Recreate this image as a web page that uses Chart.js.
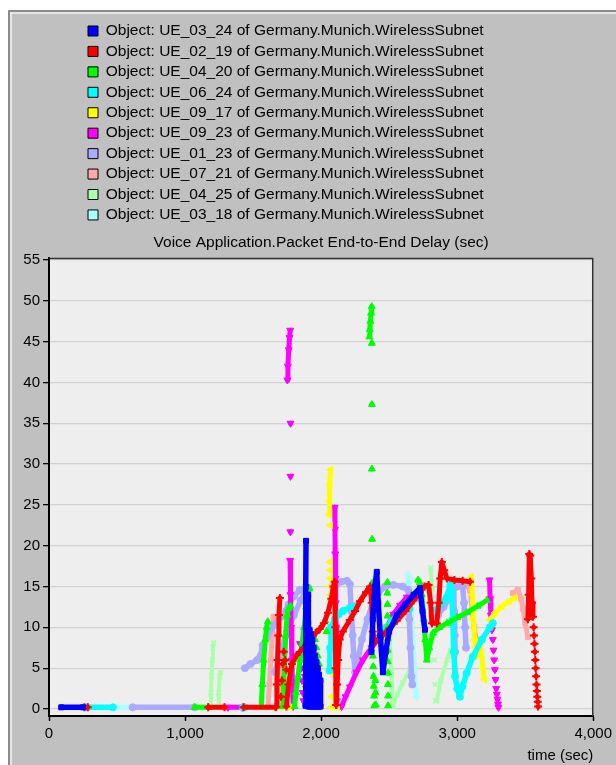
<!DOCTYPE html>
<html><head><meta charset="utf-8">
<script src="https://cdn.jsdelivr.net/npm/chart.js@4"></script>
<style>
html,body{margin:0;padding:0;background:#fff;width:616px;height:765px;overflow:hidden;}
#panel{position:absolute;left:8px;top:10px;width:620px;height:770px;background:#c0c0c0;border-left:2px solid #8c8c8c;border-top:2px solid #8c8c8c;box-shadow:inset 2px 2px 0 #e6e6e6;}
#wrap{position:absolute;left:0;top:0;width:616px;height:765px;}
</style></head><body>
<div id="panel"></div>
<div id="wrap"><canvas id="c" width="616" height="765"></canvas></div>
<script>
const seriesNames = [
  "Object: UE_03_24 of Germany.Munich.WirelessSubnet",
  "Object: UE_02_19 of Germany.Munich.WirelessSubnet",
  "Object: UE_04_20 of Germany.Munich.WirelessSubnet",
  "Object: UE_06_24 of Germany.Munich.WirelessSubnet",
  "Object: UE_09_17 of Germany.Munich.WirelessSubnet",
  "Object: UE_09_23 of Germany.Munich.WirelessSubnet",
  "Object: UE_01_23 of Germany.Munich.WirelessSubnet",
  "Object: UE_07_21 of Germany.Munich.WirelessSubnet",
  "Object: UE_04_25 of Germany.Munich.WirelessSubnet",
  "Object: UE_03_18 of Germany.Munich.WirelessSubnet"
];
const chartTitle = "Voice Application.Packet End-to-End Delay (sec)";
const xAxisTitle = "time (sec)";
const xTickValues = [0, 1000, 2000, 3000, 4000];
const yTickValues = [0, 5, 10, 15, 20, 25, 30, 35, 40, 45, 50, 55];

// [time, delay] trails (dense runs) and isolated dots, per series
const ue03_24_trails = [
  [[90,0.2],[250,0.2]],
  [[1885,0.4],[1886,5],[1887,10],[1888,15],[1889,20.6]],
  [[1905,14],[1906,7],[1907,0.3]],
  [[1915,9.7],[1916,5],[1917,0.3]],
  [[1925,9.2],[1926,4],[1927,0.3]],
  [[1935,8.5],[1936,4],[1937,0.3]],
  [[1945,7.5],[1946,3.5],[1947,0.3]],
  [[1955,6.5],[1956,3],[1957,0.3]],
  [[1965,5.8],[1966,3],[1967,0.3]],
  [[1975,5],[1976,2.5],[1977,0.3]],
  [[1985,4.2],[1986,2],[1987,0.3]],
  [[1995,3.5],[1996,0.3]],
  [[2370,7],[2380,11],[2395,15],[2409,16.8],[2420,13],[2435,9],[2454,4.5],[2475,7],[2500,9.5],[2556,11.5],[2620,12.8],[2680,14],[2726,14.8],[2745,12],[2763,9.7]]
];
const ue03_24_dots = [[1900,12],[1905,10.5]];

const ue02_19_trails = [
  [[260,0.2],[285,0.2]],
  [[1170,0.2],[1290,0.2]],
  [[1430,0.2],[1665,0.2]],
  [[1670,0.3],[1675,3],[1680,6],[1685,9],[1690,11.5],[1697,13.6]],
  [[1745,0.3],[1760,3],[1785,5.5],[1820,6.6],[1870,7.5],[1920,8.5],[1960,9.3],[1990,9.8],[2020,10.5],[2050,11.8],[2075,13.5],[2090,15],[2100,15.6],[2104,10],[2107,5],[2110,0.5]],
  [[2112,0.5],[2118,3],[2125,6],[2137,8.5],[2160,9.5],[2211,10.9],[2250,12],[2285,13.2],[2330,14.3],[2360,15],[2372,13],[2380,9.5],[2395,8.2],[2432,8.6],[2480,9.5],[2556,10.8],[2620,12],[2680,13.3],[2726,14.3],[2760,15],[2790,15.2],[2805,13],[2814,10.5],[2850,10.5],[2865,13],[2875,16],[2887,18],[2905,17],[2924,16],[2980,15.8],[3040,15.7],[3095,15.6]],
  [[3520,11],[3525,14],[3530,19],[3537,18.8],[3545,16],[3550,13],[3557,11.3]]
];
const ue02_19_dots = [[1705,1.5],[1712,3.5],[1718,5.5],[1725,7],[1735,6],[1745,4.8],
  [3562,10],[3565,9],[3568,8],[3571,7],[3574,6],[3577,5],[3580,4],[3583,3],[3586,2.2],[3589,1.5],[3592,0.9],[3595,0.3]];

const ue04_20_trails = [
  [[1070,0.2],[1170,0.2]],
  [[1560,0.3],[1568,3],[1578,6],[1590,8.5],[1600,10],[1608,10.7]],
  [[1718,0.3],[1725,3],[1732,6],[1740,9],[1750,11.5],[1760,12.3],[1775,12.6]],
  [[1805,0.3],[1815,2],[1830,4],[1845,6],[1860,8],[1875,10],[1890,12.5],[1900,13.5],[1915,14.8]],
  [[2355,45.6],[2358,46.5],[2362,47.5],[2367,48.5],[2372,49.3]],
  [[2712,15.8],[2725,15.5],[2740,14],[2755,11],[2765,8.5],[2777,6],[2795,7.5],[2822,9.3],[2870,10],[2925,10.5],[3000,11.2],[3070,11.8],[3150,12.6],[3218,13.3]]
];
const ue04_20_dots = [[2373,44.8],[2373,37.3],[2373,29.4],[2375,20.8],[2375,15.4],
  [2380,6.5],[2383,5.2],[2385,4],[2387,2.8],[2389,1.6],[2391,0.4],[2398,3.5],[2400,2],[2402,0.5],
  [2487,15.5],[2487,14.2],[2488,12.8],[2488,11.4],[2489,10],[2489,8.6],[2490,7.2],[2490,5.8],[2491,4.4],[2491,3],[2492,1.6],[2492,0.4],
  [1955,8.5],[1965,7.5],[1975,6.5],[1985,5.5],[1960,4.5],[2030,10.8],[2040,9.5]];

const ue06_24_trails = [
  [[285,0.2],[470,0.2]],
  [[1425,0.2],[1440,0.2]],
  [[2062,4.7],[2066,7.5],[2072,10],[2100,11],[2130,11.6],[2160,12],[2211,12.4],[2250,12.6]],
  [[2455,9.3],[2480,10],[2520,10.8],[2560,11.5],[2600,12],[2650,12.3]],
  [[2850,12.2],[2880,12.8],[2920,13.6],[2950,15.2],[2960,14.5],[2968,11],[2975,7],[2985,4],[3000,2.5],[3020,1.5],[3040,2.8],[3070,4.4],[3115,6.4],[3182,8.5],[3240,10],[3262,10.5]]
];
const ue06_24_dots = [];

const ue09_17_trails = [
  [[1660,0.2],[1770,0.2]],
  [[2075,0.2],[2120,0.2]],
  [[2058,23.8],[2061,25.5],[2064,27.5],[2070,29.3]],
  [[3105,16.2],[3112,14],[3120,11],[3128,8.5],[3135,6.5]],
  [[3168,8.5],[3180,6.5],[3190,5],[3200,3.6]],
  [[3240,10.9],[3280,11.8],[3330,12.6],[3380,13.2],[3424,13.6]]
];
const ue09_17_dots = [[2068,22.5],[2066,18],[2067,17],[2068,16],[2069,15],[2070,14],[2071,13.3],[2075,9],[2078,4.4],[2080,1.5]];

const ue09_23_trails = [
  [[1315,0.2],[1420,0.2]],
  [[1752,40.3],[1756,42],[1762,44],[1768,45.5],[1773,46.4]],
  [[1772,18.2],[1775,14],[1780,10],[1785,6],[1790,3],[1795,0.3]],
  [[2100,24.7],[2102,22],[2104,19],[2106,16],[2108,13],[2110,10],[2112,7],[2114,4],[2116,1]],
  [[2150,0.3],[2180,1.5],[2211,2.7],[2260,4.5],[2307,6],[2370,7.5],[2432,8.8],[2483,10],[2530,11.6],[2580,12.7],[2630,13.7]],
  [[3238,15.8],[3242,13.5],[3248,11.5],[3255,9.7]]
];
const ue09_23_dots = [[1775,35],[1775,28.5],[1774,21.7],
  [1845,8],[1850,6.5],[1855,5],[1860,3.5],[1865,2],[1870,1],[1880,4],[1890,2.5],
  [3262,8.5],[3267,7.2],[3272,6],[3277,4.8],[3282,3.6],[3287,2.5],[3292,1.8],[3296,1.2],[3300,0.6],[3303,0.2]];

const ue01_23_trails = [
  [[615,0.2],[1070,0.2]],
  [[1440,5],[1480,5.5],[1530,6],[1555,6.5],[1570,7.8],[1600,8.8],[1650,10.2],[1711,11.3],[1760,12.8],[1800,13.8],[1843,14.6]],
  [[1660,4.5],[1700,7],[1750,9.5],[1800,11.5],[1850,13.3],[1880,14.2]],
  [[2116,15.3],[2150,15.6],[2190,15.7],[2211,15.3],[2222,12],[2232,9],[2240,6.5],[2250,4.5],[2270,6],[2300,8.5],[2340,11],[2380,13],[2420,14.2],[2470,15],[2530,15.2],[2600,15],[2640,14.6],[2648,11],[2656,7.5],[2664,4],[2670,3]],
  [[2860,11.5],[2900,12.5],[2940,13.5],[2975,14.8],[2978,12],[2982,9],[2985,7]],
  [[3000,15],[3040,15],[3050,13],[3058,10],[3065,7.5]]
];
const ue01_23_dots = [];

const ue07_21_trails = [
  [[1290,0.2],[1312,0.2]],
  [[1610,0.3],[1620,3],[1630,6],[1640,9],[1650,11.3]],
  [[1680,0.3],[1690,2.5],[1700,4.5],[1712,6]],
  [[2968,14.8],[2972,12],[2976,9],[2980,6.5],[2985,4.4]],
  [[3080,15],[3095,14.5],[3110,12],[3125,10],[3140,8.5]],
  [[3410,14.2],[3446,14.6],[3470,13.5],[3484,12.3],[3500,10.5],[3520,8.8]]
];
const ue07_21_dots = [];

const ue04_25_trails = [
  [[1185,0.3],[1190,2],[1195,4],[1200,6],[1205,7.5],[1210,8.1]],
  [[1243,0.3],[1248,2],[1255,4],[1262,4.5]],
  [[2505,8.8],[2510,6.5],[2515,4.5],[2520,2.5],[2525,0.3]],
  [[2530,0.5],[2560,1.8],[2600,3.2],[2652,4.8]],
  [[2805,17.3],[2812,15.5],[2820,14.6]],
  [[2851,1],[2880,3.5],[2925,6],[2950,7.2]]
];
const ue04_25_dots = [[2825,12],[2828,9],[2832,6],[2836,3],[2840,1]];

const ue03_18_trails = [
  [[500,0.2],[610,0.2]],
  [[2635,14.5],[2640,16.4],[2650,16],[2660,13],[2672,9],[2685,5],[2700,1.5]]
];
const ue03_18_dots = [];

const seriesTrails = [ue03_24_trails, ue02_19_trails, ue04_20_trails, ue06_24_trails, ue09_17_trails, ue09_23_trails, ue01_23_trails, ue07_21_trails, ue04_25_trails, ue03_18_trails];
const seriesDots = [ue03_24_dots, ue02_19_dots, ue04_20_dots, ue06_24_dots, ue09_17_dots, ue09_23_dots, ue01_23_dots, ue07_21_dots, ue04_25_dots, ue03_18_dots];

// styles
const colors = ['#0000ff','#ff0000','#00ff00','#00ffff','#ffff00','#ff00ff','#aaaaff','#ffaaaa','#aaffaa','#aaffff'];
const markers = [
  {style:'rect', r:3.5, rot:0, bw:1, lw:5.5},
  {style:'cross', r:4, rot:0, bw:2, lw:5},
  {style:'triangle', r:4, rot:0, bw:1, lw:5},
  {style:'circle', r:3.5, rot:0, bw:1, lw:5.5},
  {style:'triangle', r:4, rot:270, bw:1, lw:5},
  {style:'triangle', r:4, rot:180, bw:1, lw:5},
  {style:'circle', r:3.5, rot:0, bw:1, lw:5.5},
  {style:'rect', r:3.5, rot:0, bw:1, lw:5},
  {style:'crossRot', r:3.5, rot:0, bw:1.5, lw:4},
  {style:'rectRot', r:3.5, rot:0, bw:1, lw:5}
];

function buildData(trails, dots) {
  const out = [];
  trails.forEach(t => {
    t.forEach(p => out.push({x:p[0], y:p[1]}));
    out.push({x:t[t.length-1][0], y:null});
  });
  dots.forEach(p => {
    out.push({x:p[0], y:p[1]});
    out.push({x:p[0], y:null});
  });
  return out;
}

const datasets = seriesNames.map((name, i) => ({
  label: name,
  data: buildData(seriesTrails[i], seriesDots[i]),
  showLine: true,
  spanGaps: false,
  borderColor: colors[i],
  backgroundColor: colors[i],
  borderWidth: markers[i].lw,
  borderJoinStyle: 'round',
  borderCapStyle: 'round',
  pointStyle: markers[i].style,
  pointRadius: markers[i].r,
  pointRotation: markers[i].rot,
  pointBorderWidth: markers[i].bw,
  pointBackgroundColor: colors[i],
  pointBorderColor: colors[i],
  pointHoverRadius: markers[i].r
}));

const FONT = "'Liberation Sans', Arial, sans-serif";

const panelPlugin = {
  id: 'panelPlugin',
  afterLayout(chart) {
    const lg = chart.legend;
    if (!lg || !lg.lineWidths) return;
    const pad = lg.options.labels.padding;
    const cur = (lg.left + pad + lg.right - lg.lineWidths[0]) / 2;
    const dx = 88 - cur;
    lg.left += dx; lg.right += dx;
  },
  beforeDraw(chart) {
    const {ctx, chartArea: a} = chart;
    ctx.save();
    ctx.fillStyle = '#eeeeee';
    ctx.fillRect(a.left, a.top, a.right - a.left, a.bottom - a.top);
    ctx.restore();
  },
  afterDraw(chart) {
    const {ctx, chartArea: a} = chart;
    ctx.save();
    ctx.strokeStyle = '#303030';
    ctx.lineWidth = 1.5;
    ctx.beginPath();
    ctx.moveTo(a.left, a.top + 0.5);
    ctx.lineTo(a.right - 0.5, a.top + 0.5);
    ctx.lineTo(a.right - 0.5, a.bottom);
    ctx.stroke();
    ctx.restore();
  }
};

new Chart(document.getElementById('c'), {
  type: 'scatter',
  data: { datasets },
  plugins: [panelPlugin],
  options: {
    responsive: false,
    animation: false,
    devicePixelRatio: 1,
    layout: { padding: { top: 18.3, left: 0, right: 22, bottom: 0 } },
    plugins: {
      tooltip: { enabled: false },
      legend: {
        display: true,
        position: 'top',
        align: 'center',
        labels: {
          boxWidth: 10,
          boxHeight: 10,
          padding: 4.94,
          color: '#000',
          font: { family: FONT, size: 15.5 },
          generateLabels: (chart) => chart.data.datasets.map((ds, i) => ({
            text: ds.label,
            fillStyle: ds.backgroundColor,
            strokeStyle: '#000',
            lineWidth: 1,
            hidden: false,
            datasetIndex: i,
            fontColor: '#000'
          }))
        }
      }
    },
    scales: {
      x: {
        type: 'linear',
        position: 'bottom',
        min: 0,
        max: 4000,
        afterBuildTicks: (axis) => { axis.ticks = xTickValues.map(v => ({value: v})); },
        afterFit: (s) => { s.height = 49; },
        grid: { drawOnChartArea: false, drawTicks: true, tickLength: 5, tickColor: '#000', tickWidth: 1.5 },
        border: { display: true, color: '#000', width: 2 },
        ticks: { color: '#000', font: { family: FONT, size: 15 }, padding: 4, maxRotation: 0 },
        title: { display: true, text: xAxisTitle, align: 'end', color: '#000', font: { family: FONT, size: 15 }, padding: { top: 0, bottom: 0 } }
      },
      xTop: {
        type: 'linear',
        axis: 'x',
        position: 'top',
        min: 0,
        max: 4000,
        afterFit: (s) => { s.height = 25.3; },
        grid: { display: false },
        border: { display: false },
        ticks: { display: false },
        title: { display: true, text: chartTitle, color: '#000', font: { family: FONT, size: 15.5 }, padding: { top: 1, bottom: 0 } }
      },
      y: {
        type: 'linear',
        min: -0.86,
        max: 55.25,
        afterBuildTicks: (axis) => { axis.ticks = yTickValues.map(v => ({value: v})); },
        afterFit: (s) => { s.width = 49; },
        grid: { color: '#d2d2d2', lineWidth: 1.3, drawTicks: true, tickLength: 6, tickColor: '#000', tickWidth: 1.3 },
        border: { display: true, color: '#000', width: 2 },
        ticks: { color: '#000', font: { family: FONT, size: 15 }, padding: 3 }
      }
    }
  }
});
</script>
</body></html>
